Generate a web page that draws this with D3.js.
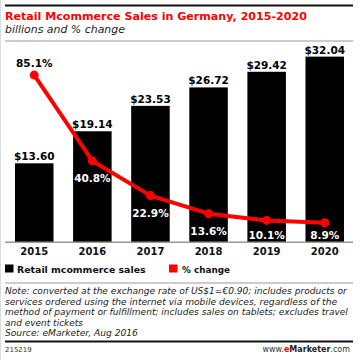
<!DOCTYPE html>
<html><head><meta charset="utf-8">
<script src="https://cdn.jsdelivr.net/npm/d3@7"></script>
<style>
html,body{margin:0;padding:0;background:#fff;}
svg{display:block;}
text{font-family:"DejaVu Sans",Verdana,sans-serif;}
</style></head>
<body>
<svg id="c" width="360" height="360"></svg>
<script>
const years = ["2015","2016","2017","2018","2019","2020"];
const sales = [13.60, 19.14, 23.53, 26.72, 29.42, 32.04];
const pctChange = [85.1, 40.8, 22.9, 13.6, 10.1, 8.9];
const salesLabels = ["$13.60","$19.14","$23.53","$26.72","$29.42","$32.04"];
const pctLabels = ["85.1%","40.8%","22.9%","13.6%","10.1%","8.9%"];
const titleText = "Retail Mcommerce Sales in Germany, 2015-2020";
const subtitleText = "billions and % change";
const legendItems = ["Retail mcommerce sales", "% change"];
const noteLines = [
  "Note: converted at the exchange rate of US$1=€0.90; includes products or",
  "services ordered using the internet via mobile devices, regardless of the",
  "method of payment or fulfillment; includes sales on tablets; excludes travel",
  "and event tickets",
  "Source: eMarketer, Aug 2016"
];
const chartId = "215219";

const svg = d3.select("#c");
const RED = "#f00";

function fit(sel, w){
  const n = sel.node();
  let fs = parseFloat(sel.attr("font-size"));
  const cw = n.getComputedTextLength();
  if (cw > 0) sel.attr("font-size", (fs * w / cw).toFixed(2));
  return sel;
}

// left faint border
svg.append("line").attr("x1",0.5).attr("x2",0.5).attr("y1",0).attr("y2",360).attr("stroke","#d8dde2").attr("stroke-width",1);

// header
svg.append("rect").attr("x",5).attr("y",4.5).attr("width",348).attr("height",2).attr("fill","#111");
fit(svg.append("text").attr("x",5).attr("y",20).attr("font-size",12).attr("font-weight","bold")
  .attr("fill",RED).text(titleText), 302);
fit(svg.append("text").attr("x",5).attr("y",33).attr("font-size",11).attr("font-style","italic")
  .attr("fill","#222").text(subtitleText), 120);
svg.append("rect").attr("x",5).attr("y",40.5).attr("width",348).attr("height",1).attr("fill","#999");

// scales
const x = d3.scaleBand().domain(years).range([5,354]).paddingInner(0.337).paddingOuter(0.172);
const yBar = d3.scaleLinear().domain([0,35]).range([242,39.5]);
const yPct = d3.scaleLinear().domain([0,100]).range([240,46.2]);

// bars
svg.append("g").selectAll("rect").data(years).join("rect")
  .attr("x", d=>x(d)).attr("width", x.bandwidth())
  .attr("y", (d,i)=>yBar(sales[i])).attr("height",(d,i)=>yBar(0)-yBar(sales[i]))
  .attr("fill","#000");

// bar value labels
svg.append("g").selectAll("text").data(years).join("text")
  .attr("x", d=>x(d)+x.bandwidth()/2).attr("y",(d,i)=>yBar(sales[i])-3)
  .attr("text-anchor","middle").attr("font-size",9.5).attr("font-weight","bold")
  .attr("font-family","'Liberation Sans',Arial,sans-serif")
  .attr("fill","#000").text((d,i)=>salesLabels[i])
  .style("font-size","10.5px");

// axis
const axis = svg.append("g").attr("transform","translate(0,242)")
  .call(d3.axisBottom(x).tickSize(0).tickPadding(6));
axis.select(".domain").remove();
axis.append("rect").attr("x",5).attr("y",-0.5).attr("width",348).attr("height",1.5).attr("fill","#999");
axis.selectAll(".tick text").attr("font-size",10).attr("font-weight","bold")
  .attr("font-family","'Liberation Sans',Arial,sans-serif").attr("fill","#111").attr("dy","0.71em");

// line
const cx = d=>x(d)+x.bandwidth()/2;
const line = d3.line().x((d,i)=>cx(years[i])).y(d=>yPct(d));
svg.append("path").datum(pctChange).attr("d",line).attr("fill","none")
  .attr("stroke",RED).attr("stroke-width",4).attr("stroke-linejoin","round");
svg.append("g").selectAll("circle").data(pctChange).join("circle")
  .attr("cx",(d,i)=>cx(years[i])).attr("cy",d=>yPct(d)).attr("r",4.5).attr("fill",RED);

// pct labels
svg.append("g").selectAll("text").data(pctChange).join("text")
  .attr("x",(d,i)=>cx(years[i]))
  .attr("y",(d,i)=> i===0 ? yPct(d)-8 : Math.min(yPct(d)+21, 239))
  .attr("text-anchor","middle").attr("font-weight","bold")
  .attr("font-family","'Liberation Sans',Arial,sans-serif")
  .style("font-size","10.5px")
  .attr("fill",(d,i)=> i===0 ? "#000" : "#fff").text((d,i)=>pctLabels[i]);

// legend
const lg = svg.append("g");
lg.append("rect").attr("x",5).attr("y",264.5).attr("width",8.5).attr("height",8).attr("fill","#000");
fit(lg.append("text").attr("x",17).attr("y",272.5).attr("font-size",10).attr("font-weight","bold")
  .attr("font-family","'Liberation Sans',Arial,sans-serif").attr("fill","#111").text(legendItems[0]), 129);
lg.append("rect").attr("x",169).attr("y",264.5).attr("width",8.5).attr("height",8).attr("fill",RED);
fit(lg.append("text").attr("x",182).attr("y",272.5).attr("font-size",10).attr("font-weight","bold")
  .attr("font-family","'Liberation Sans',Arial,sans-serif").attr("fill","#111").text(legendItems[1]), 48);

svg.append("rect").attr("x",5).attr("y",282.5).attr("width",348).attr("height",1).attr("fill","#999");

// notes
const noteW = [342, 333, 343, 78, 133];
noteLines.forEach((t,i)=>{
  fit(svg.append("text").attr("x",5).attr("y",294+i*10.5).attr("font-size",9.5)
    .attr("font-style","italic").attr("fill","#222").text(t), noteW[i]);
});

svg.append("rect").attr("x",5).attr("y",340.5).attr("width",348).attr("height",2).attr("fill","#111");
svg.append("text").attr("x",5).attr("y",352).attr("font-size",7).attr("fill","#333").text(chartId);
const wm = svg.append("text").attr("x",350).attr("y",352).attr("text-anchor","end").attr("font-size",8).attr("fill","#333");
wm.append("tspan").text("www.");
wm.append("tspan").attr("fill",RED).attr("font-weight","bold").text("e");
wm.append("tspan").attr("font-weight","bold").attr("fill","#222").text("Marketer");
wm.append("tspan").text(".com");
</script>
</body></html>
